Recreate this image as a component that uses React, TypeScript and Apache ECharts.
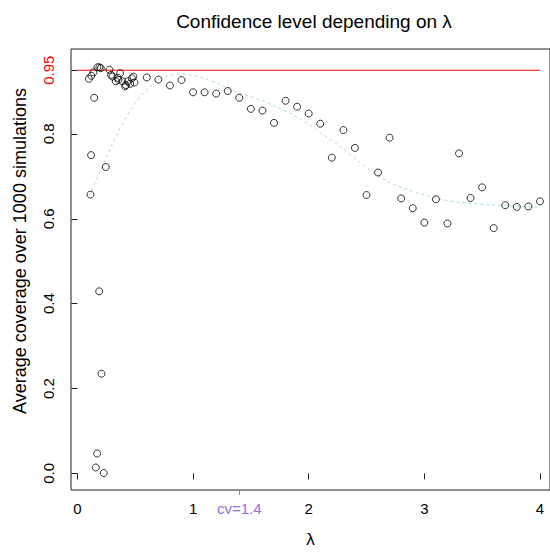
import React, { useEffect, useRef } from "react";
import * as echarts from "echarts";

// Simulation results: lambda vs average coverage
const lambda = [
  0.099, 0.113, 0.118, 0.12, 0.138, 0.145, 0.159, 0.17, 0.173, 0.188, 0.19, 0.202,
  0.208, 0.228, 0.245, 0.277, 0.291, 0.303, 0.332, 0.349, 0.355, 0.369, 0.389,
  0.413, 0.419, 0.436, 0.456, 0.471, 0.484, 0.493,
  0.6, 0.7, 0.8, 0.9, 1.0, 1.1, 1.2, 1.3, 1.4, 1.5, 1.6, 1.7, 1.8, 1.9, 2.0, 2.1,
  2.2, 2.3, 2.4, 2.5, 2.6, 2.7, 2.8, 2.9, 3.0, 3.1, 3.2, 3.3, 3.4, 3.5, 3.6, 3.7,
  3.8, 3.9, 4.0,
];
const coverage = [
  0.93, 0.657, 0.75, 0.937, 0.945, 0.885, 0.014, 0.047, 0.957, 0.429, 0.957, 0.955,
  0.235, 0.001, 0.722, 0.951, 0.939, 0.935, 0.924, 0.932, 0.927, 0.943, 0.924,
  0.912, 0.915, 0.924, 0.918, 0.931, 0.935, 0.921,
  0.933, 0.928, 0.914, 0.927, 0.898, 0.898, 0.895, 0.901, 0.885, 0.859, 0.855,
  0.826, 0.878, 0.864, 0.848, 0.824, 0.744, 0.809, 0.767, 0.656, 0.709, 0.791,
  0.648, 0.625, 0.591, 0.646, 0.589, 0.754, 0.649, 0.674, 0.578, 0.632, 0.628,
  0.629, 0.641,
];

// Smoothed fit (dashed light blue)
const smoothX = [
  0.1, 0.15, 0.2, 0.25, 0.3, 0.35, 0.43, 0.5, 0.57, 0.65, 0.72, 0.8, 0.89, 1.0,
  1.09, 1.2, 1.35, 1.58, 1.7, 1.85, 1.98, 2.1, 2.27, 2.4, 2.56, 2.7, 2.85,
  3.0, 3.14, 3.3, 3.43, 3.6, 3.71, 3.85, 3.94, 4.0,
];
const smoothY = [
  0.654, 0.683, 0.713, 0.745, 0.775, 0.803, 0.843, 0.872, 0.896, 0.917, 0.931,
  0.938, 0.941, 0.938, 0.931, 0.92, 0.902, 0.88, 0.866, 0.847, 0.826, 0.803,
  0.771, 0.742, 0.709, 0.686, 0.669, 0.656, 0.646, 0.639, 0.636, 0.632, 0.631, 0.629,
  0.628, 0.628,
];

const targetLevel = 0.95;
const targetX = [0, 4];
const cvValue = 1.4;

const xTicks = [0, 1, 2, 3, 4];
const yTicks = [0, 0.2, 0.4, 0.6, 0.8, 0.95];

const titleText = "Confidence level depending on λ";
const xTitle = "λ";
const yTitle = "Average coverage over 1000 simulations";

const FONT = "'Liberation Sans', Arial, Helvetica, sans-serif";

export default function App() {
  const ref = useRef<HTMLDivElement>(null);
  useEffect(() => {
    if (!ref.current) return;
    const chart = echarts.init(ref.current, undefined, { renderer: "svg" });
    const xMin = -0.0556;
    const xMax = 4.087;
    chart.setOption({
      animation: false,
      backgroundColor: "#fff",
      textStyle: { fontFamily: FONT },
      title: {
        text: titleText,
        left: 309,
        top: 7,
        textAlign: "center",
        textStyle: { fontFamily: FONT, fontSize: 19, fontWeight: "normal", color: "#000" },
      },
      graphic: [
        {
          type: "text",
          x: 20,
          y: 251,
          rotation: Math.PI / 2,
          style: {
            text: yTitle,
            fill: "#000",
            font: `18px ${FONT}`,
            align: "center",
            verticalAlign: "middle",
          },
        },
      ],
      grid: {
        left: 71,
        top: 49,
        width: 479,
        height: 444,
        show: true,
        borderColor: "#222",
        borderWidth: 1,
        backgroundColor: "transparent",
      },
      xAxis: [
        {
          type: "value",
          min: xMin,
          max: xMax,
          position: "bottom",
          offset: 0,
          name: xTitle,
          nameLocation: "middle",
          nameGap: 41,
          nameTextStyle: { fontFamily: FONT, fontSize: 17, color: "#000" },
          axisLine: { show: false },
          splitLine: { show: false },
          axisTick: {
            show: true,
            customValues: xTicks,
            length: 6,
            lineStyle: { color: "#222", width: 1 },
          },
          axisLabel: {
            customValues: xTicks,
            margin: 11,
            fontSize: 15,
            color: "#000",
            fontFamily: FONT,
            formatter: (v: number) => String(v),
          },
        },
        {
          type: "value",
          min: xMin,
          max: xMax,
          position: "bottom",
          offset: 0,
          axisLine: { show: false },
          splitLine: { show: false },
          axisTick: {
            show: true,
            customValues: [cvValue],
            length: 5,
            lineStyle: { color: "#9370DB", width: 1 },
          },
          axisLabel: {
            customValues: [cvValue],
            margin: 11,
            fontSize: 15,
            color: "#9370DB",
            fontFamily: FONT,
            formatter: (v: number) => "cv=" + v,
          },
        },
      ],
      yAxis: {
        type: "value",
        min: -0.039,
        max: 1.0,
        axisLine: { show: false },
        splitLine: { show: false },
        axisTick: {
          show: true,
          customValues: yTicks,
          length: 6,
          lineStyle: { color: "#222", width: 1 },
        },
        axisLabel: {
          customValues: yTicks,
          rotate: 90,
          margin: 15,
          fontSize: 15,
          fontFamily: FONT,
          align: "center",
          color: (v: number) => (Math.abs(v - targetLevel) < 1e-9 ? "#FF0000" : "#000"),
          formatter: (v: number) =>
            Math.abs(v - targetLevel) < 1e-9 ? "0.95" : v.toFixed(1),
        },
      },
      series: [
        {
          type: "line",
          data: targetX.map((x) => [x, targetLevel]),
          symbol: "none",
          lineStyle: { color: "#FF0000", width: 1 },
          z: 1,
        },
        {
          type: "line",
          data: smoothX.map((x, i) => [x, smoothY[i]]),
          symbol: "none",
          smooth: 0.3,
          lineStyle: { color: "#ADD8E6", width: 1, type: [3, 3] },
          z: 2,
        },
        {
          type: "scatter",
          data: lambda.map((x, i) => [x, coverage[i]]),
          symbol: "circle",
          symbolSize: 7,
          itemStyle: { color: "rgba(0,0,0,0)", borderColor: "#000", borderWidth: 1 },
          z: 3,
        },
      ],
    });
    return () => chart.dispose();
  }, []);
  return (
    <div
      ref={ref}
      style={{ position: "absolute", left: 0, top: 0, width: 550, height: 553 }}
    />
  );
}
